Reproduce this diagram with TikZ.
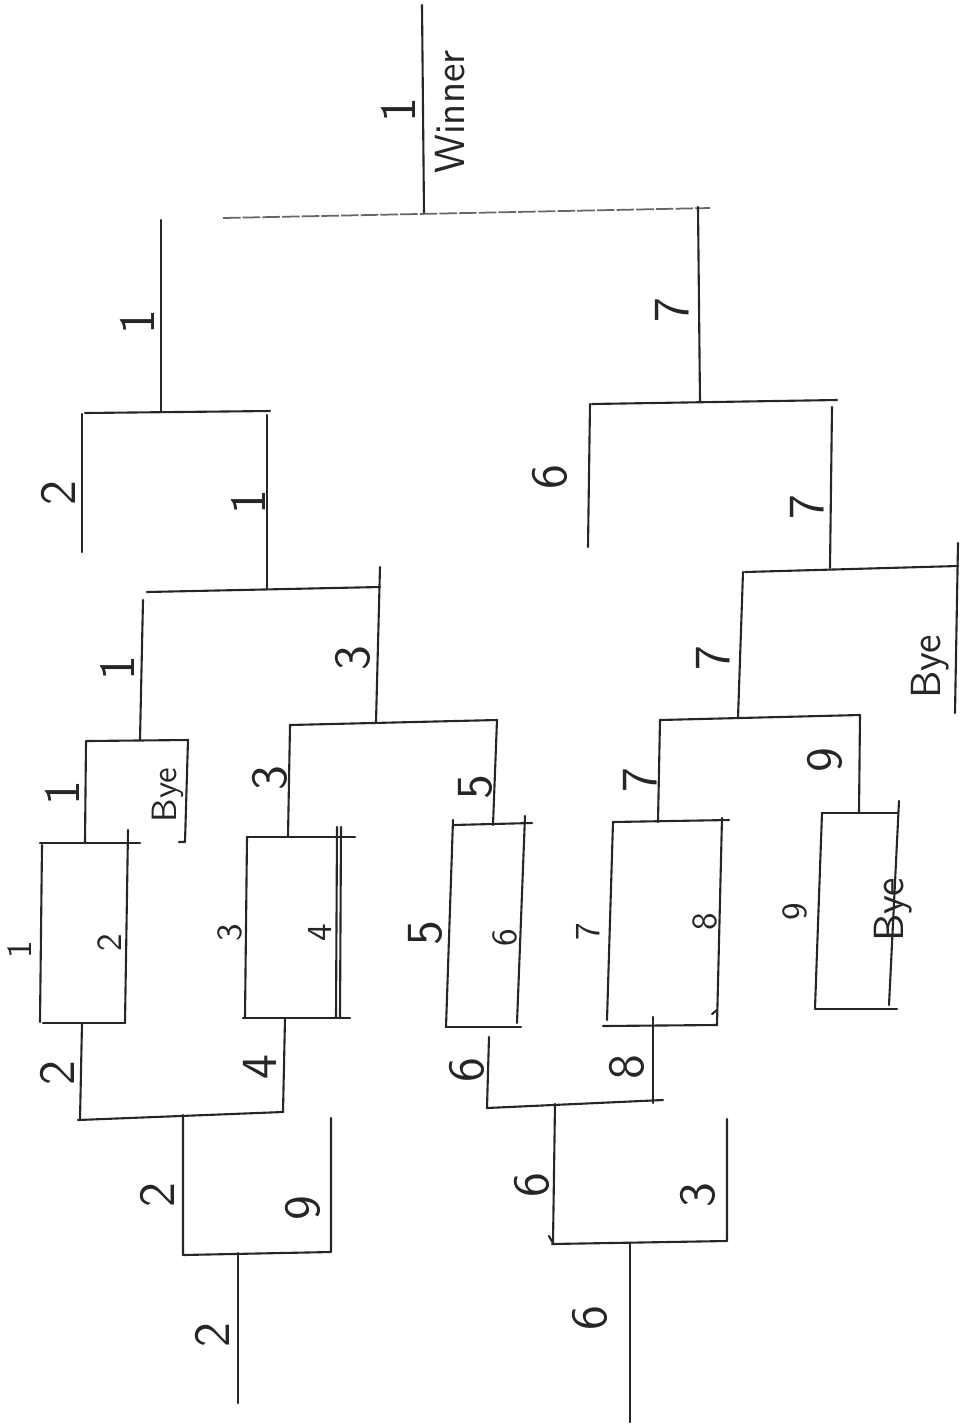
\documentclass[tikz,border=0pt]{standalone}
\usepackage{tikz}
\usetikzlibrary{positioning}
\tikzset{
  rule/.style={draw=black!85,line width=0.6pt,line cap=round,line join=round},
  faint/.style={draw=black!60,line width=0.5pt,dash pattern=on 5pt off 0.6pt},
  seed/.style={font=\sffamily\Large,rotate=90,inner sep=0pt,text=black!85},
  seedsm/.style={font=\sffamily,rotate=90,inner sep=0pt,text=black!85},
  byelbl/.style={font=\sffamily\large,rotate=90,inner sep=0pt,text=black!85}
}

\begin{document}
\begin{tikzpicture}[x=0.1mm,y=-0.1mm]
    \path[use as bounding box] (0,0) rectangle (967,1424);

    % final
    \draw[rule] (422,5) -- (424,213);
    \draw[faint] (223,218) -- (710,208);
    \draw[rule] (161,220) -- (161,412);
    \draw[rule] (698,207) -- (700,402);
    \node[seed] (final) at (398,110) {1};
    \node[byelbl] (winner) at (450,112) {Winner};
    \node[seed] (semiL) at (137,322) {1};
    \node[seed] (semiR) at (672,310) {7};

    % upper left half
    \draw[rule] (82,552) -- (82,414);
    \draw[rule] (85,413) -- (270,411);
    \draw[rule] (267,415) -- (267,588);
    \draw[rule] (147,592) -- (380,587);
    \draw[rule] (380,567) -- (376,722);
    \draw[rule] (143,600) -- (140,740);
    \draw[rule] (87,741) -- (188,740);
    \draw[rule] (86,741) -- (85,843);
    \draw[rule] (188,740) -- (185,842) -- (179,842);
    \draw[rule] (290,725) -- (497,720);
    \draw[rule] (290,725) -- (288,837);
    \draw[rule] (497,720) -- (493,825);
    \node[seed] (qfA) at (58,493) {2};
    \node[seed] (qfB) at (248,502) {1};
    \node[seed] (rdA) at (117,668) {1};
    \node[seed] (rdB) at (353,658) {3};
    \node[seed] (byeA1) at (62,793) {1};
    \node[seedsm] (byeA) at (168,795) {Bye};
    \node[seed] (pairB) at (270,778) {3};
    \node[seed] (pairC) at (475,787) {5};

    % upper right half
    \draw[rule] (592,404) -- (837,400);
    \draw[rule] (590,404) -- (588,547);
    \draw[rule] (832,407) -- (830,568);
    \draw[rule] (745,572) -- (958,566);
    \draw[rule] (958,543) -- (955,713);
    \draw[rule] (743,572) -- (738,718);
    \draw[rule] (660,720) -- (860,715);
    \draw[rule] (660,720) -- (658,822);
    \draw[rule] (860,715) -- (859,813);
    \node[seed] (qfC) at (550,477) {6};
    \node[seed] (qfD) at (807,507) {7};
    \node[seed] (rdC) at (713,658) {7};
    \node[byelbl] (byeB) at (930,667) {Bye};
    \node[seed] (pairD) at (640,780) {7};
    \node[seed] (pairE) at (825,760) {9};

    % first round boxes
    \draw[rule] (40,843) -- (140,843);
    \draw[rule] (42,845) -- (40,1022);
    \draw[rule] (128,830) -- (125,1023);
    \draw[rule] (43,1023) -- (125,1023);
    \draw[rule] (82,1023) -- (80,1120);

    \draw[rule] (247,837) -- (355,837);
    \draw[rule] (247,837) -- (245,1018);
    \draw[rule] (337,827) -- (336,1018);
    \draw[rule] (341,827) -- (340,1018);
    \draw[rule] (243,1018) -- (350,1018);
    \draw[rule] (285,1018) -- (283,1112);

    \draw[rule] (453,825) -- (532,823);
    \draw[rule] (453,820) -- (446,1027);
    \draw[rule] (525,816) -- (517,1023);
    \draw[rule] (446,1027) -- (521,1027);
    \draw[rule] (489,1037) -- (487,1108);

    \draw[rule] (613,822) -- (729,820);
    \draw[rule] (613,822) -- (607,1020);
    \draw[rule] (722,818) -- (717,1025);
    \draw[rule] (717,1010) -- (712,1014);
    \draw[rule] (603,1026) -- (717,1025);
    \draw[rule] (653,1017) -- (653,1103);

    \draw[rule] (822,813) -- (898,813);
    \draw[rule] (822,813) -- (815,1008);
    \draw[rule] (899,801) -- (889,1005);
    \draw[rule] (815,1009) -- (897,1009);

    \node[seedsm] (p1) at (20,950) {1};
    \node[seedsm] (p2) at (110,943) {2};
    \node[seedsm] (p3) at (230,933) {3};
    \node[seedsm] (p4) at (320,933) {4};
    \node[seed] (p5) at (425,933) {5};
    \node[seedsm] (p6) at (505,938) {6};
    \node[seedsm] (p7) at (588,932) {7};
    \node[seedsm] (p8) at (705,922) {8};
    \node[seedsm] (p9) at (795,912) {9};
    \node[byelbl] (byeC) at (893,910) {Bye};

    % lower half
    \draw[rule] (78,1120) -- (283,1112);
    \draw[rule] (183,1115) -- (183,1255) -- (331,1252) -- (331,1118);
    \draw[rule] (238,1253) -- (238,1403);
    \draw[rule] (487,1108) -- (663,1100);
    \draw[rule] (555,1104) -- (553,1243) -- (549,1236);
    \draw[rule] (552,1244) -- (727,1241) -- (727,1119);
    \draw[rule] (630,1243) -- (630,1422);
    \node[seed] (lowA) at (57,1073) {2};
    \node[seed] (lowB) at (260,1067) {4};
    \node[seed] (lowC) at (467,1070) {6};
    \node[seed] (lowD) at (627,1067) {8};
    \node[seed] (lowE) at (157,1195) {2};
    \node[seed] (lowF) at (303,1208) {9};
    \node[seed] (lowG) at (532,1185) {6};
    \node[seed] (lowH) at (698,1195) {3};
    \node[seed] (lowI) at (212,1335) {2};
    \node[seed] (lowJ) at (590,1318) {6};
  \end{tikzpicture}
\end{document}
